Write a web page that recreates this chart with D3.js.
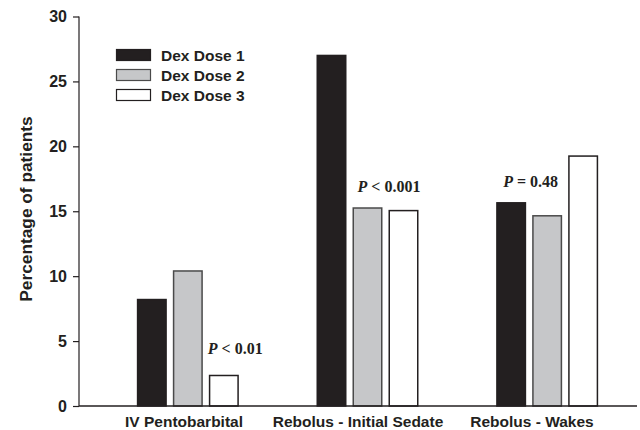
<!DOCTYPE html>
<html><head><meta charset="utf-8">
<script src="https://cdn.jsdelivr.net/npm/d3@7"></script>
<style>body{margin:0;background:#fff}svg{display:block}</style>
</head><body>
<svg id="c" width="640" height="430"></svg>
<script>
const categories = ["IV Pentobarbital", "Rebolus - Initial Sedate", "Rebolus - Wakes"];
const seriesNames = ["Dex Dose 1", "Dex Dose 2", "Dex Dose 3"];
const dose1 = [8.2, 27.0, 15.65];
const dose2 = [10.4, 15.25, 14.65];
const dose3 = [2.35, 15.05, 19.25];
const pLabels = [["P", " < 0.01"], ["P", " < 0.001"], ["P", " = 0.48"]];
const yTicks = [0, 5, 10, 15, 20, 25, 30];

const fills = ["#231f20", "#c6c7c9", "#ffffff"];
const strokes = ["#231f20", "#4a4a4a", "#231f20"];
const series = [dose1, dose2, dose3];
const SANS = "Liberation Sans, Arial, Helvetica, sans-serif";

const svg = d3.select("#c");
const axisX = 79, x0 = 98, x1 = 637;
const y = d3.scaleLinear().domain([0, 30]).range([406, 16.5]);
const x = d3.scaleBand().domain(categories).range([x0, x1]).padding(0);
const xLab = d3.scaleBand().domain(categories).range([97, 619]).padding(0);
const barW = 30, step = 36;

// bars
categories.forEach((c, i) => {
  const gx = x(c) + x.bandwidth() / 2 - (3 * barW + 2 * (step - barW)) / 2;
  series.forEach((s, k) => {
    svg.append("rect")
      .attr("x", gx + k * step + 0.75)
      .attr("y", y(s[i]))
      .attr("width", barW - 1.5)
      .attr("height", y(0) - y(s[i]))
      .attr("fill", fills[k])
      .attr("stroke", strokes[k])
      .attr("stroke-width", 1.5);
  });
});

// y axis
const yAxis = d3.axisLeft(y).tickValues(yTicks).tickSize(6).tickPadding(6).tickFormat(d3.format("d"));
const gy = svg.append("g").attr("transform", `translate(${axisX},0)`).call(yAxis);
gy.select(".domain").remove();
gy.selectAll("line").attr("stroke", "#231f20").attr("stroke-width", 1.2);
gy.selectAll("text").attr("font-family", SANS)
  .attr("font-weight", "bold").attr("font-size", 16).attr("fill", "#231f20");
svg.append("line").attr("x1", axisX).attr("x2", axisX).attr("y1", y(30)).attr("y2", y(0))
  .attr("stroke", "#231f20").attr("stroke-width", 1.2);

// x axis
svg.append("line").attr("x1", axisX).attr("x2", x1).attr("y1", y(0)).attr("y2", y(0))
  .attr("stroke", "#231f20").attr("stroke-width", 1.5);
const xAxis = d3.axisBottom(xLab).tickSize(0).tickPadding(10);
const gx = svg.append("g").attr("transform", `translate(0,${y(0)})`).call(xAxis);
gx.select(".domain").remove();
gx.selectAll("text").attr("font-family", SANS)
  .attr("font-weight", "bold").attr("font-size", 15.5).attr("fill", "#231f20");

// y label
svg.append("text").attr("transform", "translate(32,209) rotate(-90)")
  .attr("text-anchor", "middle").attr("font-family", SANS)
  .attr("font-weight", "bold").attr("font-size", 17.3).attr("fill", "#231f20")
  .text("Percentage of patients");

// legend
seriesNames.forEach((n, k) => {
  svg.append("rect").attr("x", 116.5).attr("y", 49.5 + k * 20).attr("width", 34).attr("height", 11)
    .attr("fill", fills[k]).attr("stroke", strokes[k]).attr("stroke-width", 1.2);
  svg.append("text").attr("x", 161).attr("y", 60.5 + k * 20)
    .attr("font-family", SANS).attr("font-weight", "bold")
    .attr("font-size", 15.5).attr("fill", "#231f20").text(n);
});

// p-value annotations
categories.forEach((c, i) => {
  const gxx = x(c) + x.bandwidth() / 2 - 51;
  const offs = [71, 41, 7][i];
  const yy = [y(dose3[0]) - 21, y(dose2[1]) - 16, y(dose1[2]) - 16][i];
  const t = svg.append("text").attr("x", gxx + offs).attr("y", yy)
    .attr("font-family", "Liberation Serif, Times New Roman, serif").attr("font-weight", "bold")
    .attr("font-size", 16).attr("fill", "#231f20");
  t.append("tspan").attr("font-style", "italic").text(pLabels[i][0]);
  t.append("tspan").text(pLabels[i][1]);
});
</script>
</body></html>
